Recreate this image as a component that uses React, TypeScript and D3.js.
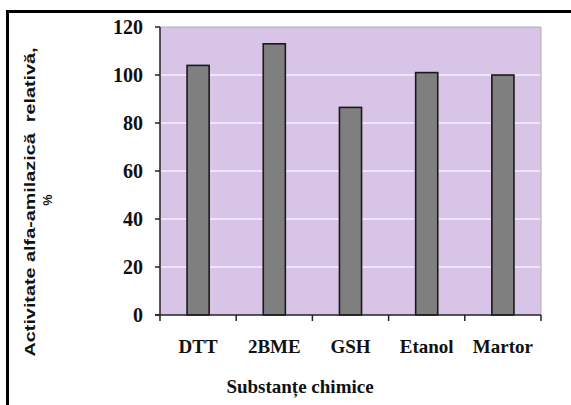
import React from "react";
import * as d3 from "d3";

const categories = ["DTT", "2BME", "GSH", "Etanol", "Martor"];
const values = [104, 113, 86.5, 101, 100];
const yTicks = [0, 20, 40, 60, 80, 100, 120];

const W = 571;
const H = 405;
const plot = { left: 160, right: 541, top: 27, bottom: 315 };

export default function App() {
  const x = d3
    .scaleBand<string>()
    .domain(categories)
    .range([plot.left, plot.right])
    .paddingInner(0)
    .paddingOuter(0);
  const y = d3.scaleLinear().domain([0, 120]).range([plot.bottom, plot.top]);
  const barW = x.bandwidth() * 0.29;
  const serif = "'Liberation Serif', 'DejaVu Serif', serif";
  const sans = "'Liberation Sans', Arial, sans-serif";
  const boundaries = [...categories.map((c) => x(c) as number), plot.right];

  return (
    <svg
      width={W}
      height={H}
      style={{ position: "absolute", left: 0, top: 0, background: "#fff" }}
    >
      <rect x={0} y={0} width={W} height={H} fill="#fff" />
      {/* outer frame */}
      <rect x={7.5} y={11.5} width={620} height={430} fill="none" stroke="#000" strokeWidth={3} />

      {/* plot area */}
      <rect
        x={plot.left}
        y={plot.top}
        width={plot.right - plot.left}
        height={plot.bottom - plot.top}
        fill="#d8c4e6"
      />
      {yTicks
        .filter((t) => t > 0 && t < 120)
        .map((t) => (
          <line
            key={t}
            x1={plot.left}
            x2={plot.right}
            y1={y(t)}
            y2={y(t)}
            stroke="#efe4f5"
            strokeWidth={1.8}
          />
        ))}
      {/* plot frame top/right */}
      <path
        d={`M${plot.left},${plot.top}H${plot.right}V${plot.bottom}`}
        fill="none"
        stroke="#b3abb8"
        strokeWidth={1}
      />

      {/* bars */}
      {categories.map((c, i) => {
        const cx = (x(c) as number) + x.bandwidth() / 2;
        return (
          <rect
            key={c}
            x={cx - barW / 2}
            y={y(values[i])}
            width={barW}
            height={y(0) - y(values[i])}
            fill="#7f7f7f"
            stroke="#1a1a1a"
            strokeWidth={1.6}
          />
        );
      })}

      {/* y axis */}
      <line x1={plot.left} x2={plot.left} y1={plot.top} y2={plot.bottom} stroke="#222" strokeWidth={1.5} />
      {yTicks.map((t) => (
        <g key={t}>
          <line x1={plot.left - 5} x2={plot.left} y1={y(t)} y2={y(t)} stroke="#222" strokeWidth={1.5} />
          <text
            x={143}
            y={y(t) + 6.5}
            textAnchor="end"
            fontFamily={serif}
            fontWeight="bold"
            fontSize={20}
            fill="#111"
          >
            {t}
          </text>
        </g>
      ))}

      {/* x axis */}
      <line x1={plot.left - 5} x2={plot.right} y1={plot.bottom} y2={plot.bottom} stroke="#222" strokeWidth={1.5} />
      {boundaries.map((b, i) => (
        <line key={i} x1={b} x2={b} y1={plot.bottom} y2={plot.bottom + 6} stroke="#222" strokeWidth={1.5} />
      ))}
      {categories.map((c) => (
        <text
          key={c}
          x={(x(c) as number) + x.bandwidth() / 2}
          y={353}
          textAnchor="middle"
          fontFamily={serif}
          fontWeight="bold"
          fontSize={19}
          fill="#111"
        >
          {c}
        </text>
      ))}

      {/* axis titles */}
      <text
        x={300}
        y={393}
        textAnchor="middle"
        fontFamily={serif}
        fontWeight="bold"
        fontSize={19}
        fill="#111"
      >
        Substanțe chimice
      </text>
      <text
        transform="translate(35,202) rotate(-90)"
        textAnchor="middle"
        fontFamily={sans}
        fontWeight="bold"
        fontSize={14}
        fill="#111"
        textLength={309}
        lengthAdjust="spacingAndGlyphs"
        style={{ whiteSpace: "pre" }}
      >
        {"Activitate alfa-amilazică  relativă,"}
      </text>
      <text
        transform="translate(52,200) rotate(-90)"
        textAnchor="middle"
        fontFamily={sans}
        fontWeight="bold"
        fontSize={12}
        fill="#111"
        textLength={11}
        lengthAdjust="spacingAndGlyphs"
      >
        %
      </text>
    </svg>
  );
}
